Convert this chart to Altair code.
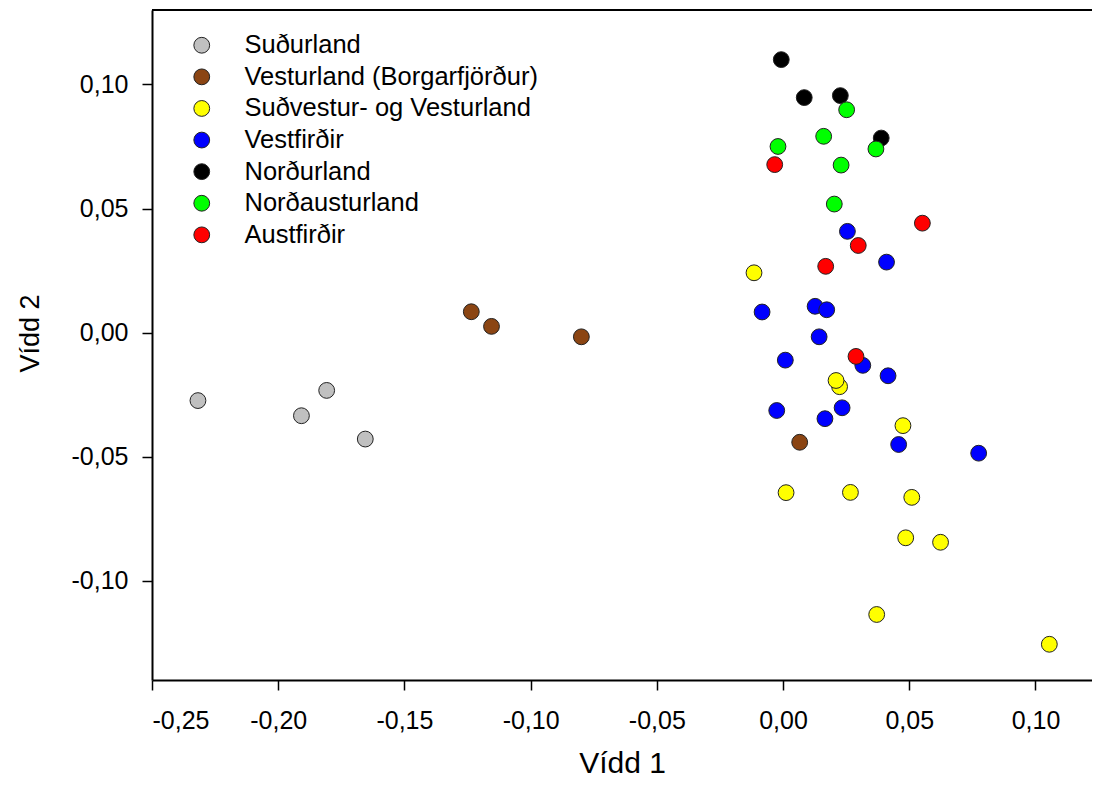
import altair as alt
import pandas as pd

groups = ["Suðurland", "Vesturland (Borgarfjörður)", "Suðvestur- og Vesturland",
          "Vestfirðir", "Norðurland", "Norðausturland", "Austfirðir"]
colors = ["#C0C0C0", "#8B4513", "#FFFF00", "#0000FF", "#000000", "#00FF00", "#FF0000"]

sud_x = [-0.2318, -0.1908, -0.1808, -0.1655]
sud_y = [-0.0274, -0.0335, -0.0233, -0.0429]

vest_x = [-0.1235, -0.1155, -0.0799, 0.0066]
vest_y = [0.0084, 0.0025, -0.0017, -0.0442]

sv_x = [-0.0115, 0.0224, 0.0210, 0.0475, 0.0012, 0.0267, 0.0510, 0.0486, 0.0624, 0.0371, 0.1055]
sv_y = [0.0241, -0.0218, -0.0193, -0.0375, -0.0645, -0.0644, -0.0664, -0.0827, -0.0845, -0.1136, -0.1256]

vf_x = [0.0255, 0.0410, -0.0083, 0.0127, 0.0173, 0.0143, 0.0009, 0.0316, 0.0416,
        -0.0025, 0.0166, 0.0234, 0.0458, 0.0775]
vf_y = [0.0408, 0.0284, 0.0083, 0.0106, 0.0092, -0.0017, -0.0111, -0.0132, -0.0174,
        -0.0314, -0.0347, -0.0303, -0.0451, -0.0486]

nl_x = [-0.0007, 0.0084, 0.0227, 0.0389]
nl_y = [0.1100, 0.0947, 0.0955, 0.0784]

na_x = [0.0252, 0.0161, -0.0020, 0.0368, 0.0230, 0.0203]
na_y = [0.0898, 0.0791, 0.0750, 0.0740, 0.0675, 0.0518]

af_x = [-0.0033, 0.0552, 0.0298, 0.0169, 0.0289]
af_y = [0.0677, 0.0441, 0.0351, 0.0267, -0.0096]

series = [(sud_x, sud_y), (vest_x, vest_y), (sv_x, sv_y), (vf_x, vf_y),
          (nl_x, nl_y), (na_x, na_y), (af_x, af_y)]

rows = []
for g, (xs, ys) in zip(groups, series):
    for a, b in zip(xs, ys):
        rows.append({"Svæði": g, "x": a, "y": b})
df = pd.DataFrame(rows)

x_ticks = [-0.25, -0.20, -0.15, -0.10, -0.05, 0.0, 0.05, 0.10]
y_ticks = [-0.10, -0.05, 0.0, 0.05, 0.10]

fmt = "replace(replace(format(datum.value, '.2f'), '.', ','), '\u2212', '-')"
FONT = "Liberation Sans"
W, H = 940, 670

points = alt.Chart(df).mark_point(
    shape="circle", filled=True, size=250, stroke="#222222", strokeWidth=1, opacity=1
).encode(
    x=alt.X("x:Q", scale=alt.Scale(domain=[-0.25, 0.1224], nice=False, zero=False),
            axis=alt.Axis(values=x_ticks, labelExpr=fmt, title="Vídd 1", grid=False,
                          domainColor="black", domainWidth=2, tickColor="black",
                          tickWidth=1.5, tickSize=10, labelPadding=18,
                          labelFontSize=25, labelFont=FONT, labelColor="black",
                          titleFont=FONT, titleFontSize=30, titleFontWeight="normal",
                          titleColor="black", titleY=92, titleBaseline="alphabetic")),
    y=alt.Y("y:Q", scale=alt.Scale(domain=[-0.14, 0.13], nice=False, zero=False),
            axis=alt.Axis(values=y_ticks, labelExpr=fmt, title="Vídd 2", grid=False,
                          domainColor="black", domainWidth=2, tickColor="black",
                          tickWidth=1.5, tickSize=10, labelPadding=14,
                          labelFontSize=25, labelFont=FONT, labelColor="black",
                          titleFont=FONT, titleFontSize=27, titleFontWeight="normal",
                          titleColor="black", titleAngle=270, titleX=-122, titleY=323,
                          titleAlign="center", titleBaseline="middle")),
    color=alt.Color("Svæði:N", scale=alt.Scale(domain=groups, range=colors),
                    sort=groups,
                    legend=alt.Legend(orient="none", legendX=37, legendY=22.5, title=None,
                                      symbolType="circle", symbolSize=250,
                                      symbolStrokeColor="#222222", symbolStrokeWidth=1,
                                      labelFont=FONT, labelFontSize=25.5, labelColor="black",
                                      labelOffset=30, rowPadding=4.6, padding=0,
                                      labelLimit=0, symbolOpacity=1)),
)

top_border = alt.Chart(df).mark_rule(color="black", strokeWidth=2).encode(
    x=alt.value(0), x2=alt.value(W), y=alt.value(0)
)

chart = alt.layer(points, top_border).properties(
    width=W, height=H,
    autosize=alt.AutoSizeParams(type="none"),
    padding={"left": 144, "top": 2, "right": 0, "bottom": 97},
).configure_view(stroke=None)

chart.save("out.html", embed_options={"renderer": "svg", "actions": False})
